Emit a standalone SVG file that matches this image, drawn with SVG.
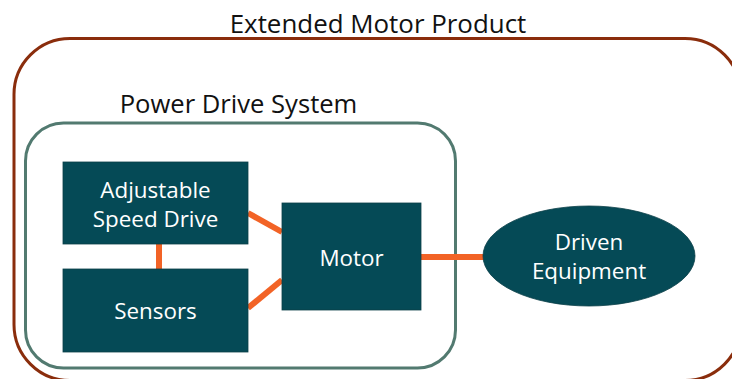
<svg xmlns="http://www.w3.org/2000/svg" width="732" height="379" viewBox="0 0 732 379">
<style>
.title{font-family:"Open Sans","Noto Sans","DejaVu Sans",sans-serif;fill:#111;text-anchor:middle;}
.lbl{font-family:"Open Sans","Noto Sans","DejaVu Sans",sans-serif;font-size:22.4px;fill:#ffffff;text-anchor:middle;}
.box{fill:#054A56;stroke:#0A3F48;stroke-width:0.8;}
.conn{stroke:#F26326;stroke-width:6;fill:none;}
</style>
<rect width="732" height="379" fill="#ffffff"/>
<g id="extended-motor-product">
<rect x="14" y="38.5" width="727" height="342" rx="56" ry="56" fill="none" stroke="#8A2D0C" stroke-width="3"/>
<text class="title" x="378" y="32.5" font-size="25.9">Extended Motor Product</text>
</g>
<g id="power-drive-system">
<rect x="25.5" y="123" width="430" height="245" rx="38" ry="38" fill="none" stroke="#527A70" stroke-width="3"/>
<text class="title" x="238.5" y="113" font-size="25.6">Power Drive System</text>
</g>
<g id="connectors">
<line class="conn" x1="159" y1="244" x2="159" y2="269"/>
<line class="conn" x1="248" y1="213" x2="282" y2="232"/>
<line class="conn" x1="248" y1="308" x2="282" y2="280"/>
<line class="conn" x1="421" y1="257" x2="484" y2="257"/>
</g>
<g id="adjustable-speed-drive">
<rect class="box" x="63" y="162" width="185" height="82"/>
<text class="lbl" x="155.5" y="197.5">Adjustable</text>
<text class="lbl" x="155.5" y="226.5">Speed Drive</text>
</g>
<g id="sensors">
<rect class="box" x="63" y="269" width="185" height="83"/>
<text class="lbl" x="155.5" y="318.5">Sensors</text>
</g>
<g id="motor">
<rect class="box" x="282" y="203" width="139" height="107"/>
<text class="lbl" x="351.5" y="265.5">Motor</text>
</g>
<g id="driven-equipment">
<ellipse class="box" cx="589" cy="256" rx="106" ry="50"/>
<text class="lbl" x="589" y="250">Driven</text>
<text class="lbl" x="589" y="279">Equipment</text>
</g>
</svg>
